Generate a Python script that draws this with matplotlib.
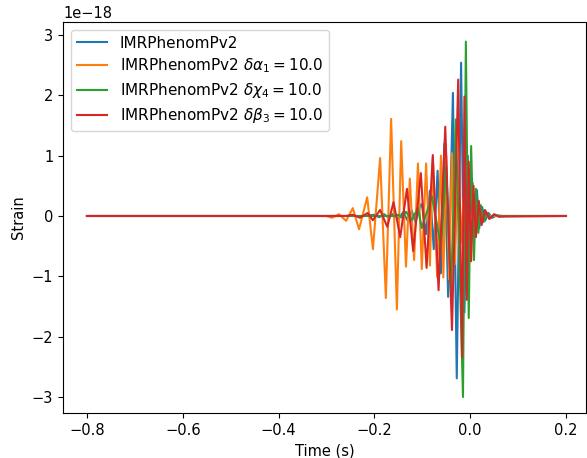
import matplotlib
matplotlib.use("Agg")
import matplotlib.pyplot as plt
import numpy as np

# Waveform extrema (time in s, strain in units of 1e-18)
t_gr = [-0.800, -0.220, -0.200, -0.190, -0.180, -0.170, -0.160, -0.150, -0.140, -0.131,
        -0.122, -0.114, -0.106, -0.101, -0.092, -0.084, -0.076, -0.068, -0.061, -0.054,
        -0.046, -0.036, -0.028, -0.019, -0.012, -0.005, 0.000, 0.005, 0.010, 0.014,
        0.019, 0.025, 0.031, 0.038, 0.046, 0.055, 0.070, 0.200]
h_gr = [0.0, 0.0, 0.02, -0.02, 0.03, -0.03, 0.04, -0.05, 0.06, -0.07,
        0.09, -0.11, 0.14, 0.20, -0.30, 0.42, -0.55, 0.75, -0.95, 1.20,
        -1.34, 2.04, -2.69, 2.54, -1.60, 1.00, -0.70, 0.55, -0.35, 0.43,
        -0.20, 0.15, -0.08, 0.05, -0.03, 0.01, 0.0, 0.0]

t_a1 = [-0.800, -0.300, -0.2885, -0.274, -0.259, -0.245, -0.232, -0.215, -0.203, -0.188,
        -0.176, -0.165, -0.153, -0.144, -0.134, -0.126, -0.117, -0.109, -0.101, -0.092,
        -0.084, -0.078, -0.069, -0.061, -0.056, -0.050, -0.044, -0.038, -0.032, -0.026,
        -0.020, -0.014, -0.008, -0.002, 0.004, 0.010, 0.016, 0.025, 0.040, 0.200]
h_a1 = [0.0, 0.0, -0.03, 0.03, -0.08, 0.13, -0.22, 0.31, -0.55, 0.96,
        -1.36, 1.61, -1.55, 1.24, -0.84, 0.62, -0.73, 0.87, -0.88, 0.87,
        -0.82, 0.96, -1.01, 1.00, -1.02, 1.00, -1.05, 1.04, -0.80, 0.60,
        -0.45, 0.30, -0.20, 0.12, -0.08, 0.05, -0.03, 0.01, 0.0, 0.0]

t_c4 = [-0.800, -0.160, -0.150, -0.142, -0.134, -0.122, -0.109, -0.101, -0.080, -0.061,
        -0.050, -0.040, -0.030, -0.015, -0.009, -0.003, 0.002, 0.008, 0.012, 0.017,
        0.022, 0.028, 0.034, 0.042, 0.050, 0.060, 0.075, 0.200]
h_c4 = [0.0, 0.0, 0.02, -0.03, 0.07, -0.07, 0.13, -0.20, 0.33, -0.51,
        0.81, -1.30, 1.60, -3.00, 2.89, -1.69, 1.16, -0.73, 0.45, -0.28,
        0.18, -0.10, 0.06, -0.03, 0.02, -0.01, 0.0, 0.0]

t_b3 = [-0.800, -0.260, -0.245, -0.230, -0.214, -0.203, -0.188, -0.173, -0.160, -0.146,
        -0.132, -0.119, -0.103, -0.091, -0.078, -0.066, -0.052, -0.038, -0.025, -0.017,
        -0.012, -0.007, -0.003, 0.002, 0.007, 0.012, 0.018, 0.024, 0.031, 0.040,
        0.050, 0.060, 0.200]
h_b3 = [0.0, 0.0, 0.02, -0.03, 0.05, -0.07, 0.10, -0.18, 0.23, -0.35,
        0.45, -0.58, 0.71, -0.86, 1.01, -1.23, 1.48, -1.89, 2.26, -2.34,
        1.98, -1.39, 0.90, -0.75, 0.50, -0.35, 0.25, -0.15, 0.10, -0.05,
        0.03, -0.01, 0.0]

labels = ["IMRPhenomPv2",
          r"IMRPhenomPv2 $\delta\alpha_1 = 10.0$",
          r"IMRPhenomPv2 $\delta\chi_4 = 10.0$",
          r"IMRPhenomPv2 $\delta\beta_3 = 10.0$"]

fig = plt.figure(figsize=(5.87, 4.58), dpi=100)
ax = fig.add_axes([63/587, 1 - 413/458, (586 - 63)/587, (413 - 22)/458])
scale = 1e-18
for t, h, lab in [(t_gr, h_gr, labels[0]), (t_a1, h_a1, labels[1]),
                  (t_c4, h_c4, labels[2]), (t_b3, h_b3, labels[3])]:
    ax.plot(t, np.array(h) * scale, label=lab)

ax.set_xlim(-0.85, 0.2418)
ax.set_ylim(-3.265e-18, 3.215e-18)
ax.set_xticks([-0.8, -0.6, -0.4, -0.2, 0.0, 0.2])
ax.set_yticks(np.arange(-3, 4) * scale)
ax.tick_params(labelsize=10.5)
ax.yaxis.get_offset_text().set_fontsize(10.5)
ax.set_xlabel("Time (s)", fontsize=10.5)
ax.set_ylabel("Strain", fontsize=10.5)
ax.legend(loc="upper left", fontsize=11, labelspacing=0.38)
fig.savefig("out.png", dpi=100)
